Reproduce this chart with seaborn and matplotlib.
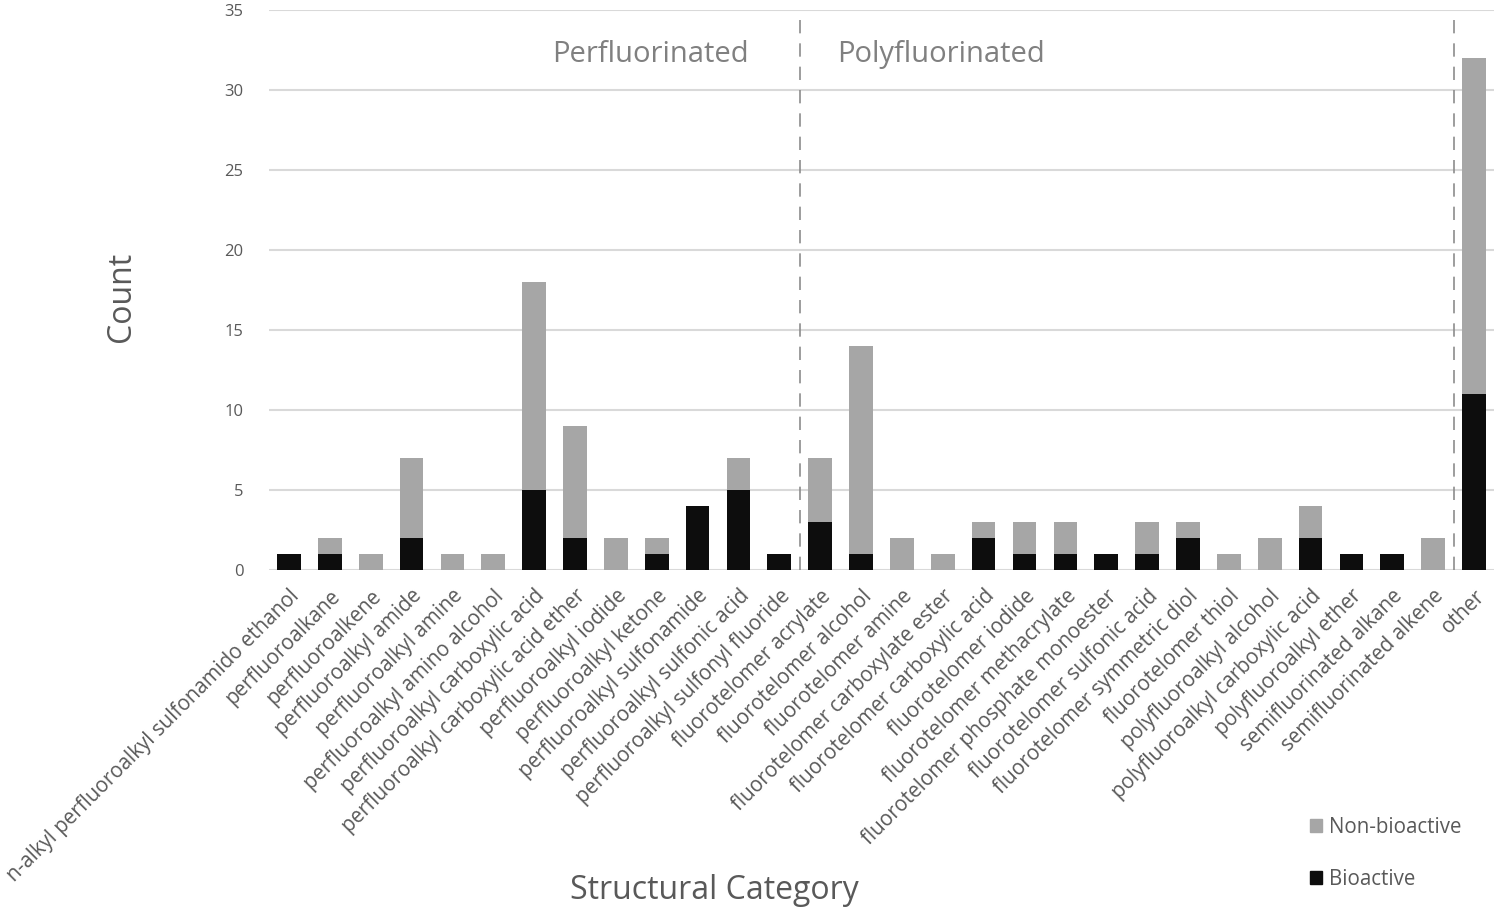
import pandas as pd
import matplotlib
matplotlib.use('Agg')
import matplotlib.pyplot as plt
import seaborn as sns
from matplotlib.patches import Patch

categories = [
    'n-alkyl perfluoroalkyl sulfonamido ethanol', 'perfluoroalkane', 'perfluoroalkene',
    'perfluoroalkyl amide', 'perfluoroalkyl amine', 'perfluoroalkyl amino alcohol',
    'perfluoroalkyl carboxylic acid', 'perfluoroalkyl carboxylic acid ether',
    'perfluoroalkyl iodide', 'perfluoroalkyl ketone', 'perfluoroalkyl sulfonamide',
    'perfluoroalkyl sulfonic acid', 'perfluoroalkyl sulfonyl fluoride',
    'fluorotelomer acrylate', 'fluorotelomer alcohol', 'fluorotelomer amine',
    'fluorotelomer carboxylate ester', 'fluorotelomer carboxylic acid',
    'fluorotelomer iodide', 'fluorotelomer methacrylate',
    'fluorotelomer phosphate monoester', 'fluorotelomer sulfonic acid',
    'fluorotelomer symmetric diol', 'fluorotelomer thiol', 'polyfluoroalkyl alcohol',
    'polyfluoroalkyl carboxylic acid', 'polyfluoroalkyl ether',
    'semifluorinated alkane', 'semifluorinated alkene', 'other',
]
bioactive = [1, 1, 0, 2, 0, 0, 5, 2, 0, 1, 4, 5, 1,
             3, 1, 0, 0, 2, 1, 1, 1, 1, 2, 0, 0, 2, 1, 1, 0, 11]
non_bioactive = [0, 1, 1, 5, 1, 1, 13, 7, 2, 1, 0, 2, 0,
                 4, 13, 2, 1, 1, 2, 2, 0, 2, 1, 1, 2, 2, 0, 0, 2, 21]
y_ticks = [0, 5, 10, 15, 20, 25, 30, 35]

df = pd.DataFrame({'category': categories, 'bio': bioactive, 'non': non_bioactive})
df['total'] = df['bio'] + df['non']

sns.set_style('white')
plt.rcParams['font.family'] = ['Open Sans', 'DejaVu Sans']

GRAY = '#a6a6a6'
BLACK = '#0d0d0d'
TXT = '#595959'

fig = plt.figure(figsize=(14.98, 9.11), dpi=100)
ax = fig.add_axes([0.1793, 0.374, 0.8183, 0.615])

sns.barplot(data=df, x='category', y='total', color=GRAY, width=0.58,
            saturation=1, linewidth=0, ax=ax, zorder=3)
sns.barplot(data=df, x='category', y='bio', color=BLACK, width=0.58,
            saturation=1, linewidth=0, ax=ax, zorder=4)

ax.set_xlim(-0.5, len(categories) - 0.5)
ax.set_ylim(0, 35)
ax.set_yticks(y_ticks)
ax.yaxis.grid(True, color='#d9d9d9', linewidth=1.5, zorder=0)
ax.set_axisbelow(True)
for s in ax.spines.values():
    s.set_visible(False)
ax.tick_params(axis='both', length=0, colors=TXT)
ax.tick_params(axis='y', labelsize=12, pad=18)
ax.set_xticks(range(len(categories)))
ax.set_xticklabels(categories, rotation=45, ha='right', rotation_mode='anchor',
                   fontsize=14.8, color=TXT)
ax.tick_params(axis='x', pad=11)

# group separators
for xpos in [12.5, 28.5]:
    ax.axvline(xpos, color='#8c8c8c', linestyle=(0, (8, 6)), linewidth=1.2, zorder=5)

ax.text(8.85, 32.2, 'Perfluorinated', ha='center', va='center', fontsize=21, color='#808080')
ax.text(15.95, 32.2, 'Polyfluorinated', ha='center', va='center', fontsize=21, color='#808080')

ax.set_xlabel('')
ax.set_ylabel('')
fig.text(0.081, 0.674, 'Count', rotation=90, ha='center', va='center', fontsize=23, color=TXT)
fig.text(0.477, 0.023, 'Structural Category', ha='center', va='center', fontsize=23, color=TXT)

handles = [Patch(color=GRAY, label='Non-bioactive'), Patch(color=BLACK, label='Bioactive')]
fig.legend(handles=handles, loc='center left', bbox_to_anchor=(0.862, 0.063),
           frameon=False, fontsize=14.8, handlelength=0.6, handleheight=0.6,
           handletextpad=0.35, labelspacing=1.5, labelcolor=TXT)

fig.savefig('out.png', dpi=100)
